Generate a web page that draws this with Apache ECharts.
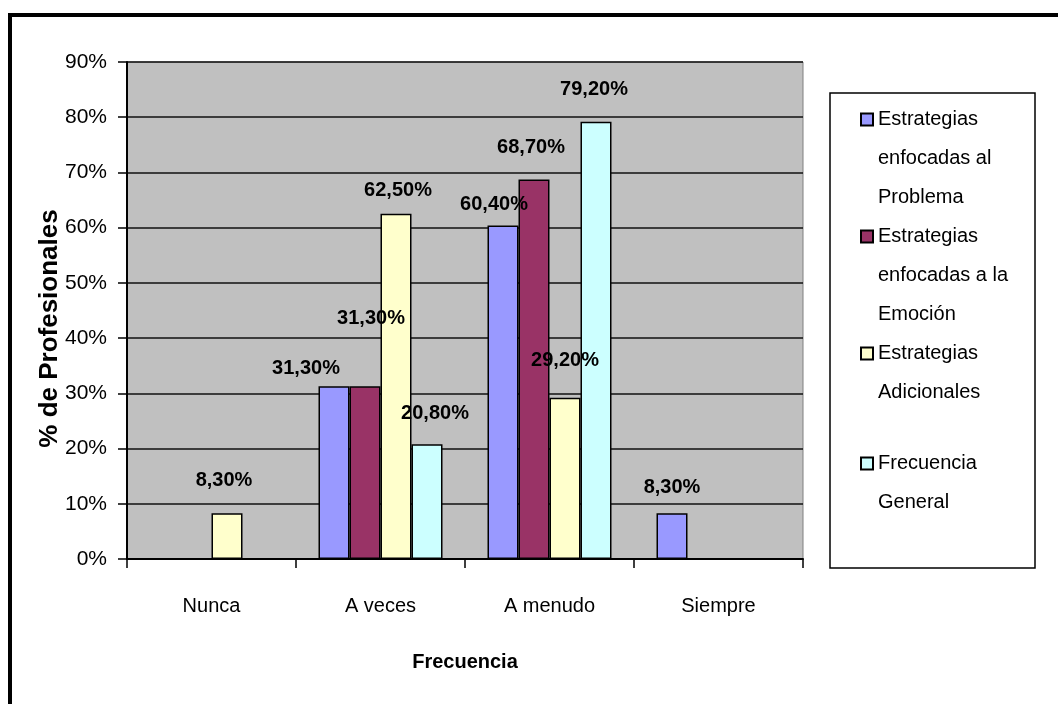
<!DOCTYPE html>
<html>
<head>
<meta charset="utf-8">
<script src="https://cdn.jsdelivr.net/npm/echarts@6/dist/echarts.min.js"></script>
<style>
  html, body { margin: 0; padding: 0; background: #fff; }
  #chart { width: 1058px; height: 704px; }
</style>
</head>
<body>
<div id="chart"></div>
<script>
// categories and values (percent)
var categories = ['Nunca', 'A veces', 'A menudo', 'Siempre'];
var seriesNames = [
  'Estrategias enfocadas al Problema',
  'Estrategias enfocadas a la Emoción',
  'Estrategias Adicionales',
  'Frecuencia General'
];
var problema    = ['-', 31.3, 60.4, 8.3];
var emocion     = ['-', 31.3, 68.7, '-'];
var adicionales = [8.3, 62.5, 29.2, '-'];
var general     = ['-', 20.8, 79.2, '-'];

// legend text as wrapped in the original
var legendLines = {
  'Estrategias enfocadas al Problema': ['Estrategias', 'enfocadas al', 'Problema'],
  'Estrategias enfocadas a la Emoción': ['Estrategias', 'enfocadas a la', 'Emoción'],
  'Estrategias Adicionales': ['Estrategias', 'Adicionales'],
  'Frecuencia General': ['Frecuencia', 'General']
};

// hand placed value labels (dx, dy), like the excel original
var labelShift = [
  [[0, 0], [-28, -6], [-9, -9], [0, -14]],
  [[0, 0], [6, -56], [-3, -20], [0, 0]],
  [[-3, -21], [2, -11], [0, -25], [0, 0]],
  [[0, 0], [8, -19], [-2, -20], [0, 0]]
];

var colorPalette = ['#9999FF', '#993366', '#FFFFCC', '#CCFFFF'];
var font = "'Liberation Sans', Arial, sans-serif";

var chart = echarts.init(document.getElementById('chart'));

function makeSeries(idx, values) {
  return {
    name: seriesNames[idx],
    type: 'bar',
    barWidth: 31,
    barGap: '0%',
    itemStyle: { color: colorPalette[idx], borderColor: '#000', borderWidth: 1.5 },
    label: {
      show: true,
      position: 'top',
      distance: 0,
      fontFamily: font,
      fontWeight: 'bold',
      fontSize: 20,
      lineHeight: 24,
      color: '#000',
      formatter: function (p) {
        return p.value.toFixed(2).replace('.', ',') + '%';
      }
    },
    data: values.map(function (v, i) {
      if (v === '-') return '-';
      return { value: v, label: { offset: labelShift[idx][i] } };
    })
  };
}

// icon sits on the first line: pad the text with empty lines above
function makeLegend(idx, top) {
  return {
    data: [seriesNames[idx]],
    left: 860,
    top: top,
    padding: 0,
    icon: 'rect',
    itemWidth: 12,
    itemHeight: 12,
    selectedMode: false,
    formatter: function (name) {
      var lines = legendLines[name];
      var pad = [];
      for (var k = 1; k < lines.length; k++) pad.push('');
      return pad.concat(lines).join('\n');
    },
    textStyle: {
      fontFamily: font,
      fontSize: 20,
      lineHeight: 39,
      color: '#000'
    }
  };
}

var option = {
  animation: false,
  backgroundColor: '#fff',
  grid: {
    left: 127,
    top: 62,
    width: 676,
    height: 497,
    show: true,
    backgroundColor: '#C0C0C0',
    borderColor: '#808080',
    borderWidth: 1
  },
  graphic: [
    {
      type: 'rect',
      shape: { x: 830, y: 93, width: 205, height: 475 },
      style: { fill: '#fff', stroke: '#000', lineWidth: 1.5 }
    },
    {
      type: 'rect',
      shape: { x: 10, y: 15, width: 1100, height: 800 },
      style: { fill: 'none', stroke: '#000', lineWidth: 4 }
    }
  ],
  legend: [
    makeLegend(0, 22),
    makeLegend(1, 139),
    makeLegend(2, 295),
    makeLegend(3, 405)
  ],
  xAxis: {
    type: 'category',
    data: categories,
    name: 'Frecuencia',
    nameLocation: 'middle',
    nameGap: 93,
    nameMoveOverlap: false,
    nameTextStyle: { fontFamily: font, fontWeight: 'bold', fontSize: 20, color: '#000' },
    axisLine: { lineStyle: { color: '#000', width: 2 } },
    axisTick: { show: true, length: 9, lineStyle: { color: '#000', width: 1.5 } },
    axisLabel: { margin: 37, fontFamily: font, fontSize: 20, color: '#000' },
    splitLine: { show: false }
  },
  yAxis: {
    type: 'value',
    min: 0,
    max: 90,
    interval: 10,
    name: '% de Profesionales',
    nameLocation: 'middle',
    nameGap: 64,
    nameMoveOverlap: false,
    nameTextStyle: {
      fontFamily: font,
      fontWeight: 'bold',
      fontSize: 26,
      color: '#000',
      padding: [0, 36, 0, 0]
    },
    axisLine: { show: true, lineStyle: { color: '#000', width: 2 } },
    axisTick: { show: true, length: 9, lineStyle: { color: '#000', width: 1.5 } },
    axisLabel: { margin: 20, fontFamily: font, fontSize: 21, color: '#000', formatter: '{value}%' },
    splitLine: { lineStyle: { color: '#111', width: 1.5 } }
  },
  series: [
    makeSeries(0, problema),
    makeSeries(1, emocion),
    makeSeries(2, adicionales),
    makeSeries(3, general)
  ]
};

chart.setOption(option);
</script>
</body>
</html>
